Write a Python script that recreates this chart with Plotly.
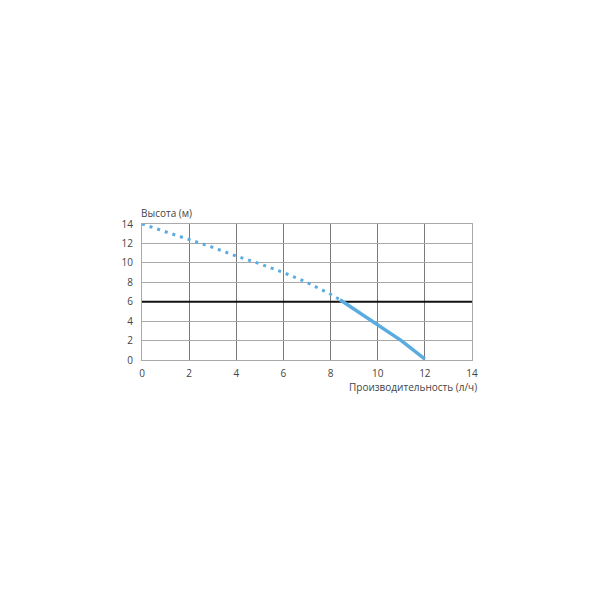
import plotly.graph_objects as go

# Dotted (extrapolated) part of the curve
dot_x = [0, 1, 2, 3, 4, 5, 6, 6.8, 7.4, 7.9, 8.4]
dot_y = [14, 13.2, 12.4, 11.6, 10.7, 9.9, 9.0, 8.2, 7.5, 6.9, 6.2]
# Solid (working) part of the curve
sol_x = [8.4, 9.2, 10, 11, 12]
sol_y = [6.2, 4.9, 3.7, 2.0, 0.1]

ref_level = 6
x_ticks = [0, 2, 4, 6, 8, 10, 12, 14]
y_ticks = [0, 2, 4, 6, 8, 10, 12, 14]
y_title = "Высота (м)"
x_title = "Производительность (л/ч)"

blue = "#5aace0"
fig = go.Figure()
fig.add_trace(go.Scatter(x=dot_x, y=dot_y, mode="lines",
                         line=dict(color=blue, width=3, dash="3px,5px"),
                         hoverinfo="skip"))
fig.add_trace(go.Scatter(x=sol_x, y=sol_y, mode="lines",
                         line=dict(color=blue, width=3.5),
                         hoverinfo="skip"))

fig.add_shape(type="line", xref="x", yref="y", x0=0, x1=14, y0=ref_level, y1=ref_level,
              line=dict(color="#111111", width=2), layer="between")

fig.update_layout(
    width=600, height=600,
    margin=dict(l=134, r=136, t=216, b=248),
    paper_bgcolor="white", plot_bgcolor="white",
    showlegend=False,
    font=dict(family="Open Sans", size=10, color="#444444"),
    xaxis=dict(range=[0, 14], tickvals=x_ticks, showgrid=True, gridcolor="#7a7a7a",
               gridwidth=1, showline=True, linecolor="#aaaaaa", mirror=True,
               zeroline=False, ticks="", ticklen=0, ticklabelstandoff=4,
               tickfont=dict(size=10, color="#444")),
    yaxis=dict(range=[0, 14], tickvals=y_ticks, showgrid=True, gridcolor="#a8a8a8",
               gridwidth=1, showline=True, linecolor="#aaaaaa", mirror=True,
               zeroline=False, ticks="", ticklen=0, ticklabelstandoff=6,
               tickfont=dict(size=10, color="#444")),
    annotations=[
        dict(text=y_title, xref="paper", yref="paper", x=-0.01, y=1, xanchor="left",
             yanchor="bottom", yshift=2, showarrow=False, font=dict(size=10, color="#444")),
        dict(text=x_title, xref="paper", yref="paper", x=1.02, y=0, xanchor="right",
             yanchor="top", yshift=-18, showarrow=False, font=dict(size=10, color="#444")),
    ],
)

fig.write_html("out.html")
